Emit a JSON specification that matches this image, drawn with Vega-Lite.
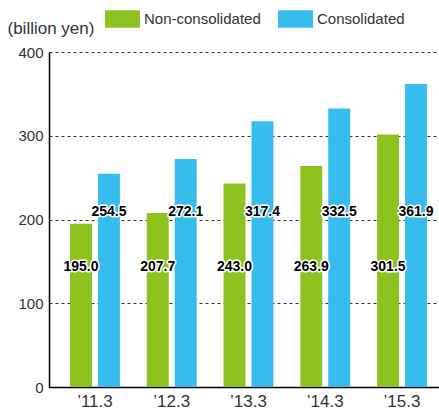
{
  "$schema": "https://vega.github.io/schema/vega-lite/v6.json",
  "width": 390,
  "height": 335,
  "autosize": "none",
  "padding": {"left": 49, "top": 52, "right": 0, "bottom": 32},
  "background": "white",
  "config": {
    "view": {"stroke": null},
    "font": "Liberation Sans",
    "axis": {"labelFont": "Liberation Sans", "labelColor": "#333333", "titleFont": "Liberation Sans"}
  },
  "data": {
    "values": [
      {"year": "’11.3", "series": "Non-consolidated", "value": 195.0},
      {"year": "’11.3", "series": "Consolidated", "value": 254.5},
      {"year": "’12.3", "series": "Non-consolidated", "value": 207.7},
      {"year": "’12.3", "series": "Consolidated", "value": 272.1},
      {"year": "’13.3", "series": "Non-consolidated", "value": 243.0},
      {"year": "’13.3", "series": "Consolidated", "value": 317.4},
      {"year": "’14.3", "series": "Non-consolidated", "value": 263.9},
      {"year": "’14.3", "series": "Consolidated", "value": 332.5},
      {"year": "’15.3", "series": "Non-consolidated", "value": 301.5},
      {"year": "’15.3", "series": "Consolidated", "value": 361.9}
    ]
  },
  "encoding": {
    "x": {
      "field": "year", "type": "nominal", "sort": null,
      "scale": {"paddingInner": 0.35, "paddingOuter": 0.215, "align": 0.636},
      "axis": {"title": null, "labelAngle": 0, "labelFontSize": 17, "labelPadding": 6, "ticks": false, "domainColor": "#000000", "domainWidth": 1.5, "grid": false}
    },
    "xOffset": {
      "field": "series", "type": "nominal", "sort": ["Non-consolidated", "Consolidated"],
      "scale": {"paddingInner": 0.214, "paddingOuter": 0}
    }
  },
  "layer": [
    {
      "mark": {"type": "bar"},
      "encoding": {
        "y": {
          "field": "value", "type": "quantitative",
          "scale": {"domain": [0, 400], "nice": false},
          "axis": {
            "values": [0, 100, 200, 300, 400],
            "title": "(billion yen)", "titleAngle": 0, "titleAlign": "left", "titleBaseline": "middle",
            "titleX": -42, "titleY": -24, "titleFontSize": 17, "titleFontWeight": "normal", "titleColor": "#333333",
            "labelFontSize": 15, "labelPadding": 6, "ticks": false,
            "domainColor": "#000000", "domainWidth": 1.5,
            "grid": true, "gridColor": "#333333", "gridDash": [3, 3], "gridWidth": 1
          }
        },
        "color": {
          "field": "series", "type": "nominal",
          "sort": ["Non-consolidated", "Consolidated"],
          "scale": {"domain": ["Non-consolidated", "Consolidated"], "range": ["#8dc21f", "#36bdee"]},
          "legend": {
            "title": null, "orient": "none", "direction": "horizontal",
            "legendX": 56, "legendY": -51,
            "symbolType": "M-1,-0.5H1V0.5H-1Z", "symbolSize": 1225, "symbolStrokeWidth": 0,
            "labelFontSize": 15, "labelColor": "#333333", "labelOffset": 4, "columnPadding": 17
          }
        }
      }
    },
    {
      "mark": {"type": "text", "font": "Liberation Sans", "fontWeight": "bold", "fontSize": 14, "stroke": "white", "strokeWidth": 3, "strokeJoin": "round", "baseline": "middle"},
      "encoding": {
        "y": {"datum": 143, "type": "quantitative"},
        "text": {"field": "value", "type": "quantitative", "format": ".1f"}
      },
      "transform": [{"filter": "datum.series === 'Non-consolidated'"}]
    },
    {
      "mark": {"type": "text", "font": "Liberation Sans", "fontWeight": "bold", "fontSize": 14, "stroke": "white", "strokeWidth": 3, "strokeJoin": "round", "baseline": "middle"},
      "encoding": {
        "y": {"datum": 209, "type": "quantitative"},
        "text": {"field": "value", "type": "quantitative", "format": ".1f"}
      },
      "transform": [{"filter": "datum.series === 'Consolidated'"}]
    },
    {
      "mark": {"type": "text", "font": "Liberation Sans", "fontWeight": "bold", "fontSize": 14, "color": "black", "baseline": "middle"},
      "encoding": {
        "y": {"datum": 143, "type": "quantitative"},
        "text": {"field": "value", "type": "quantitative", "format": ".1f"}
      },
      "transform": [{"filter": "datum.series === 'Non-consolidated'"}]
    },
    {
      "mark": {"type": "text", "font": "Liberation Sans", "fontWeight": "bold", "fontSize": 14, "color": "black", "baseline": "middle"},
      "encoding": {
        "y": {"datum": 209, "type": "quantitative"},
        "text": {"field": "value", "type": "quantitative", "format": ".1f"}
      },
      "transform": [{"filter": "datum.series === 'Consolidated'"}]
    }
  ]
}
